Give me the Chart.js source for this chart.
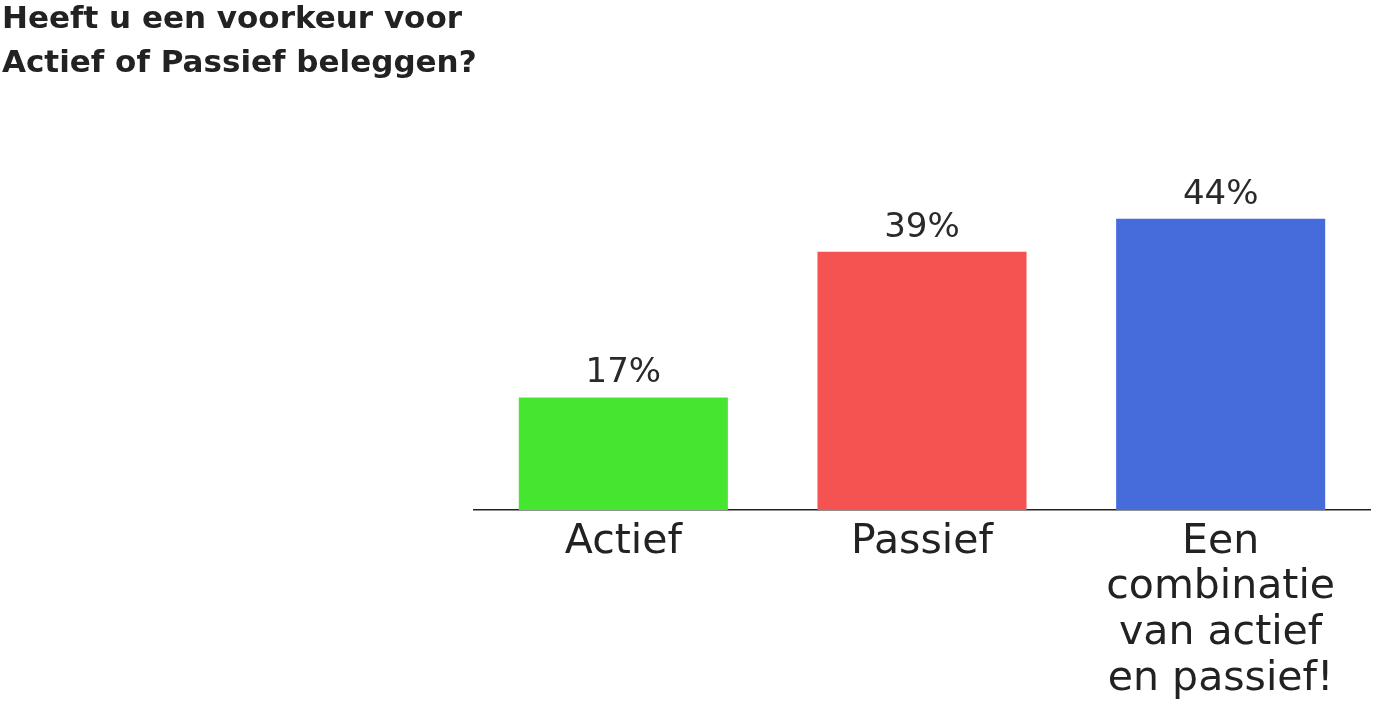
<!DOCTYPE html>
<html>
<head>
<meta charset="utf-8">
<script src="https://cdn.jsdelivr.net/npm/chart.js@4.4.0/dist/chart.umd.min.js"></script>
<style>
  html, body { margin: 0; padding: 0; background: #fff; }
  #wrap { width: 1385px; height: 709px; position: relative; }
</style>
</head>
<body>
<div id="wrap"><canvas id="myChart"></canvas></div>
<script>
const categories = [['Actief'], ['Passief'], ['Een', 'combinatie', 'van actief', 'en passief!']];
const values = [17, 39, 44];
const barColors = ['#46e52f', '#f55352', '#466bdb'];
const titleLines = ['Heeft u een voorkeur voor', 'Actief of Passief beleggen?'];

// labels boven de balken
const valueLabels = {
  id: 'valueLabels',
  afterDatasetsDraw(chart) {
    const c = chart.ctx;
    const meta = chart.getDatasetMeta(0);
    c.save();
    c.font = '400 34px "DejaVu Sans", sans-serif';
    c.fillStyle = '#2a2a2a';
    c.textAlign = 'center';
    c.textBaseline = 'alphabetic';
    meta.data.forEach((bar, i) => {
      c.fillText(values[i] + '%', bar.x, bar.y - 15);
    });
    c.restore();
  }
};

const ctx = document.getElementById('myChart');

new Chart(ctx, {
  type: 'bar',
  data: {
    labels: categories,
    datasets: [{
      data: values,
      backgroundColor: barColors,
      borderWidth: 0,
      categoryPercentage: 1,
      barPercentage: 0.7
    }]
  },
  options: {
    responsive: true,
    maintainAspectRatio: false,
    animation: false,
    layout: { padding: { left: 2, right: 15, top: -2, bottom: 0 } },
    plugins: {
      legend: { display: false },
      tooltip: { enabled: false },
      title: {
        display: true,
        text: titleLines,
        align: 'start',
        color: '#222',
        font: { family: '"DejaVu Sans", sans-serif', size: 31, weight: 'bold', lineHeight: 1.42 },
        padding: { top: 0, bottom: 93 }
      }
    },
    scales: {
      x: {
        grid: { display: false, drawTicks: false },
        border: { display: true, color: '#222', width: 1.5 },
        ticks: {
          color: '#222',
          padding: 9,
          maxRotation: 0,
          autoSkip: false,
          font: { family: '"DejaVu Sans", sans-serif', size: 41, weight: 'normal', lineHeight: 1.115 }
        },
        afterFit: (s) => { s.height = 199; }
      },
      y: {
        min: 0,
        max: 50,
        display: true,
        grid: { display: false, drawTicks: false },
        border: { display: false },
        ticks: { display: false },
        afterFit: (s) => { s.width = 472; }
      }
    }
  },
  plugins: [valueLabels]
});
</script>
</body>
</html>
